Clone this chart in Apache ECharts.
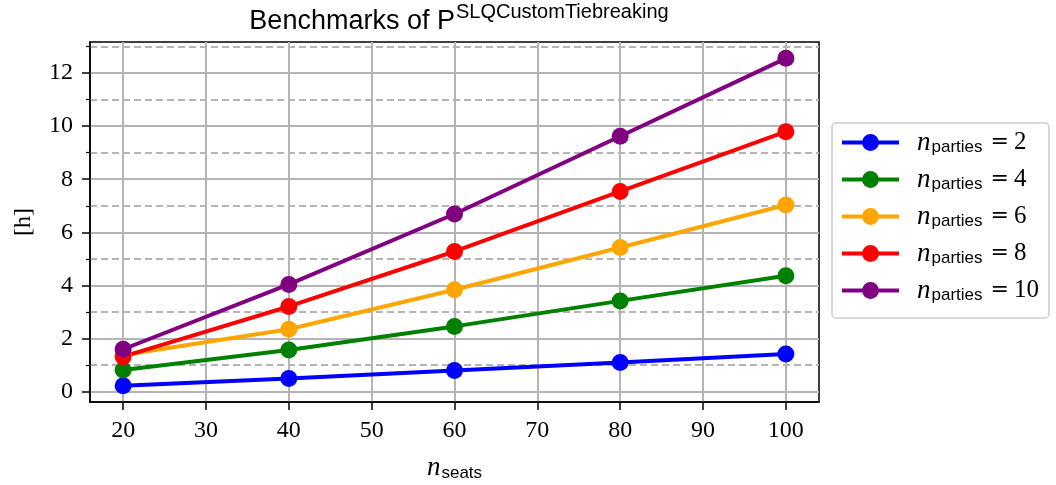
<!DOCTYPE html>
<html>
<head>
<meta charset="utf-8">
<script src="https://cdn.jsdelivr.net/npm/echarts@6/dist/echarts.min.js"></script>
<style>
  html, body { margin: 0; padding: 0; background: #ffffff; }
  #chart { width: 1056px; height: 485px; }
</style>
</head>
<body>
<div id="chart"></div>
<script>
// Number of seats on the x axis
const seats = [20, 40, 60, 80, 100];
// Number of parties for each benchmark series
const partyCounts = [2, 4, 6, 8, 10];
// Runtime in hours, one array per party count
const hoursParties2 = [0.23, 0.50, 0.80, 1.10, 1.42];
const hoursParties4 = [0.82, 1.57, 2.46, 3.42, 4.37];
const hoursParties6 = [1.38, 2.35, 3.84, 5.43, 7.03];
const hoursParties8 = [1.32, 3.21, 5.28, 7.54, 9.79];
const hoursParties10 = [1.60, 4.04, 6.69, 9.62, 12.55];
// Tick labels
const xTicks = [20, 30, 40, 50, 60, 70, 80, 90, 100];
const yMajorTicks = [0, 2, 4, 6, 8, 10, 12];
const yMinorTicks = [1, 3, 5, 7, 9, 11, 13];

const seriesHours = [hoursParties2, hoursParties4, hoursParties6, hoursParties8, hoursParties10];
const seriesColors = ['#0000ff', '#008000', '#ffa500', '#ff0000', '#800080'];

// 5% padding around the data range on both axes
function paddedRange(values) {
  const lo = Math.min(...values), hi = Math.max(...values);
  const pad = (hi - lo) * 0.05;
  return [lo - pad, hi + pad];
}
const [xMin, xMax] = paddedRange(seats);
const [yMin, yMax] = paddedRange(seriesHours.flat());

const serif = 'Liberation Serif';
const sans = 'Liberation Sans';
const gridColor = '#b4b4b4';
const lineWidth = 4;

const chart = echarts.init(document.getElementById('chart'), null, { renderer: 'canvas' });

const series = partyCounts.map((k, i) => ({
  name: 'p' + k,
  type: 'line',
  data: seats.map((s, j) => [s, seriesHours[i][j]]),
  xAxisIndex: 0,
  yAxisIndex: 0,
  symbol: 'circle',
  symbolSize: 17,
  color: seriesColors[i],
  lineStyle: { width: lineWidth, color: seriesColors[i] },
  itemStyle: { color: seriesColors[i] },
  emphasis: { disabled: true },
  animation: false
}));

chart.setOption({
  animation: false,
  backgroundColor: '#ffffff',
  title: {
    text: '{a|Benchmarks of P}{sup|SLQCustomTiebreaking}',
    left: 454,
    top: 0,
    textAlign: 'center',
    textStyle: {
      fontWeight: 'normal',
      rich: {
        a: { fontFamily: sans, fontWeight: 'normal', fontSize: 27, color: '#000', lineHeight: 34 },
        sup: { fontFamily: sans, fontWeight: 'normal', fontSize: 20, color: '#000', lineHeight: 14, padding: [0, 0, 20, 1] }
      }
    }
  },
  legend: {
    orient: 'vertical',
    left: 832,
    top: 123,
    padding: [6, 10, 14, 8],
    itemWidth: 57,
    itemHeight: 21,
    itemGap: 10,
    borderColor: '#cccccc',
    borderWidth: 1.5,
    borderRadius: 4,
    backgroundColor: '#ffffff',
    lineStyle: { width: lineWidth },
    data: partyCounts.map(k => 'p' + k),
    formatter: name => '{n|n}{sub|parties}{eq|=}{v|' + name.slice(1) + '}',
    textStyle: {
      padding: [0, 0, 0, 13],
      rich: {
        n: { fontFamily: serif, fontStyle: 'italic', fontSize: 27, color: '#000', lineHeight: 28 },
        sub: { fontFamily: sans, fontSize: 17, color: '#000', lineHeight: 18, padding: [10, 0, 0, 1] },
        eq: { fontFamily: 'DejaVu Serif', fontSize: 22, color: '#000', lineHeight: 28, padding: [0, 5, 0, 8] },
        v: { fontFamily: serif, fontSize: 25, color: '#000', lineHeight: 28 }
      }
    }
  },
  grid: {
    left: 90,
    right: 237,
    top: 42,
    bottom: 83,
    show: true,
    borderColor: '#000000',
    borderWidth: 1.5,
    backgroundColor: 'transparent',
    containLabel: false,
    outerBoundsMode: 'none'
  },
  xAxis: [{
    type: 'value',
    min: xMin,
    max: xMax,
    name: '{n|n}{s|seats}',
    nameLocation: 'middle',
    nameGap: 52,
    nameTextStyle: {
      rich: {
        n: { fontFamily: serif, fontStyle: 'italic', fontSize: 27, color: '#000', lineHeight: 28 },
        s: { fontFamily: sans, fontSize: 17, color: '#000', lineHeight: 18, padding: [10, 0, 0, 1] }
      }
    },
    axisLine: { show: true, onZero: false, lineStyle: { color: '#000', width: 1.5 } },
    axisTick: { show: true, customValues: xTicks, length: 8, lineStyle: { color: '#000', width: 1.5 } },
    axisLabel: { customValues: xTicks, margin: 17, fontFamily: serif, fontSize: 24, color: '#000' },
    splitLine: { show: true, lineStyle: { color: gridColor, width: 2 } }
  }],
  yAxis: [{
    type: 'value',
    position: 'left',
    min: yMin,
    max: yMax,
    name: '[h]',
    nameLocation: 'middle',
    nameGap: 52,
    nameTextStyle: { fontFamily: serif, fontSize: 24, color: '#000', lineHeight: 28 },
    axisLine: { show: true, onZero: false, lineStyle: { color: '#000', width: 1.5 } },
    axisTick: { show: true, customValues: yMajorTicks, length: 8, lineStyle: { color: '#000', width: 1.5 } },
    axisLabel: { customValues: yMajorTicks, margin: 17, fontFamily: serif, fontSize: 24, color: '#000' },
    splitLine: { show: true, lineStyle: { color: gridColor, width: 2 } }
  }, {
    // minor ticks and dashed grid at odd hours
    type: 'value',
    position: 'left',
    min: yMin,
    max: yMax,
    axisLine: { show: false },
    axisTick: { show: true, customValues: yMinorTicks, length: 4, lineStyle: { color: '#000', width: 1.2 } },
    axisLabel: { show: false, customValues: yMinorTicks },
    splitLine: { show: true, lineStyle: { color: gridColor, width: 1.8, type: [7, 4] } }
  }],
  series: series
});
</script>
</body>
</html>
